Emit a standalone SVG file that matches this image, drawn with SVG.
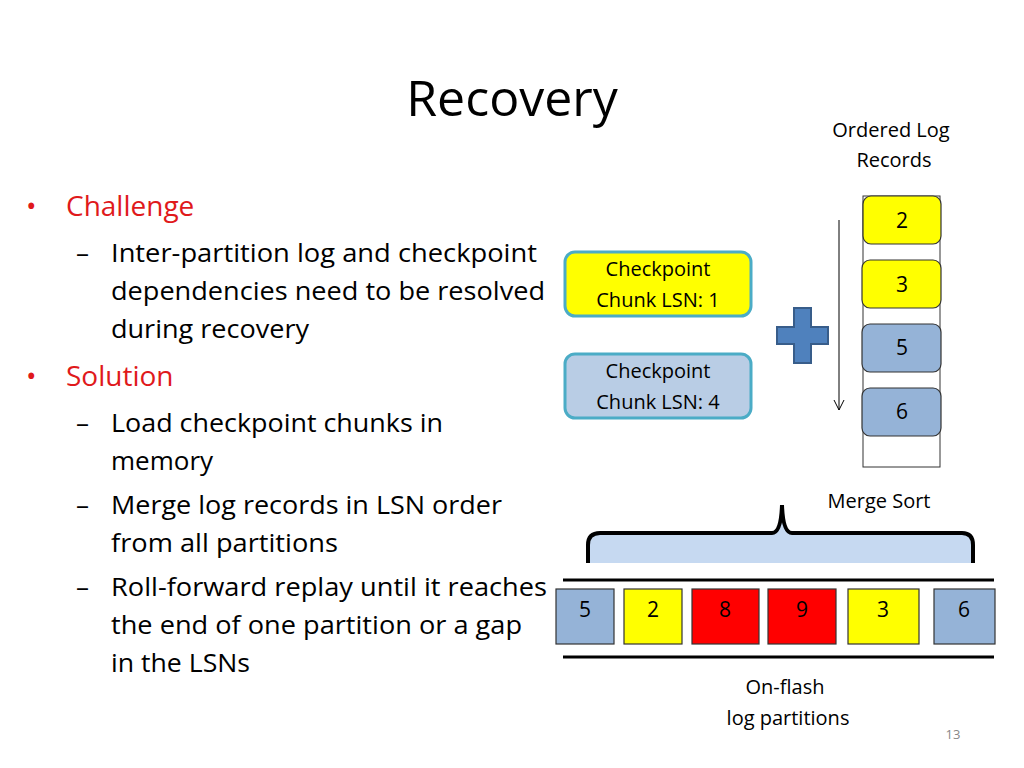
<svg xmlns="http://www.w3.org/2000/svg" width="1024" height="768" viewBox="0 0 1024 768">
<style>
text{font-family:"Open Sans","Liberation Sans",sans-serif;fill:#000}
.b{font-size:26px}
.r{fill:#e0191b;font-size:28px}
.n{font-size:21px;text-anchor:middle}
.c{font-size:20px;text-anchor:middle}
.y{fill:#ffff00}
.bl{fill:#95b3d7}
.red{fill:#ff0000}
.cell{stroke:#333;stroke-width:1.2}
.ck{stroke:#4bacc6;stroke-width:3}
</style>
<rect width="1024" height="768" fill="#fff"/>
<text x="512" y="116" font-size="50" text-anchor="middle">Recovery</text>
<g id="bullets">
<text x="26" y="216" class="r">•</text><text x="66" y="216" class="r">Challenge</text>
<text x="76" y="262" class="b">–</text><text x="111" y="262" class="b" textLength="426" lengthAdjust="spacingAndGlyphs">Inter-partition log and checkpoint</text>
<text x="111" y="300" class="b" textLength="434" lengthAdjust="spacingAndGlyphs">dependencies need to be resolved</text>
<text x="111" y="338" class="b" textLength="198" lengthAdjust="spacingAndGlyphs">during recovery</text>
<text x="26" y="386" class="r">•</text><text x="66" y="386" class="r">Solution</text>
<text x="76" y="432" class="b">–</text><text x="111" y="432" class="b" textLength="332" lengthAdjust="spacingAndGlyphs">Load checkpoint chunks in</text>
<text x="111" y="470" class="b">memory</text>
<text x="76" y="514" class="b">–</text><text x="111" y="514" class="b" textLength="391" lengthAdjust="spacingAndGlyphs">Merge log records in LSN order</text>
<text x="111" y="552" class="b" textLength="227" lengthAdjust="spacingAndGlyphs">from all partitions</text>
<text x="76" y="596" class="b">–</text><text x="111" y="596" class="b" textLength="436" lengthAdjust="spacingAndGlyphs">Roll-forward replay until it reaches</text>
<text x="111" y="634" class="b" textLength="411" lengthAdjust="spacingAndGlyphs">the end of one partition or a gap</text>
<text x="111" y="672" class="b" textLength="139" lengthAdjust="spacingAndGlyphs">in the LSNs</text>
</g>
<g id="ordered-label"><text x="891" y="137" class="c">Ordered Log</text><text x="894" y="167" class="c">Records</text></g>
<g id="ck1"><rect x="565" y="252" width="186" height="64" rx="10" class="y ck"/><text x="658" y="276" class="c">Checkpoint</text><text x="658" y="307" class="c">Chunk LSN: 1</text></g>
<g id="ck4"><rect x="565" y="354" width="186" height="64" rx="10" class="ck" style="fill:#b9cde5"/><text x="658" y="378" class="c">Checkpoint</text><text x="658" y="409" class="c">Chunk LSN: 4</text></g>
<g id="plus"><path d="M794 308h17v19h17v17h-17v19h-17v-19h-17v-17h17z" fill="#4f81bd" stroke="#385d8a" stroke-width="2"/></g>
<g id="column">
<rect x="863" y="196" width="77" height="271" fill="none" stroke="#333" stroke-width="1"/>
<rect x="863" y="196" width="78" height="48" rx="8" class="y cell"/><text x="902" y="228" class="n">2</text>
<rect x="862" y="260" width="79" height="48" rx="8" class="y cell"/><text x="902" y="292" class="n">3</text>
<rect x="862" y="324" width="79" height="48" rx="8" class="bl cell"/><text x="902" y="355" class="n">5</text>
<rect x="862" y="388" width="79" height="48" rx="8" class="bl cell"/><text x="902" y="419" class="n">6</text>
</g>
<g id="connectors">
<line x1="839" y1="220" x2="839" y2="410" stroke="#000" stroke-width="1"/>
<path d="M834 400 L839 410 L844 400" fill="none" stroke="#000" stroke-width="1"/>
</g>
<g id="merge">
<text x="879" y="508" class="c">Merge Sort</text>
<path d="M588 563 V545 Q588 533 600 533 H772 Q781 533 782 505 Q783 533 792 533 H962 Q973 533 973 545 V563 Z" fill="#c6d9f1" stroke="none"/>
<path d="M588 563 V545 Q588 533 600 533 H772 Q781 533 782 505 Q783 533 792 533 H962 Q973 533 973 545 V563" fill="none" stroke="#000" stroke-width="4"/>
</g>
<g id="partitions">
<line x1="563" y1="580" x2="994" y2="580" stroke="#000" stroke-width="3"/>
<line x1="563" y1="657" x2="994" y2="657" stroke="#000" stroke-width="3"/>
<rect x="556" y="589" width="58" height="55" class="bl cell"/><text x="585" y="617" class="n">5</text>
<rect x="624" y="589" width="58" height="55" class="y cell"/><text x="653" y="617" class="n">2</text>
<rect x="692" y="589" width="67" height="55" class="red cell"/><text x="725" y="617" class="n">8</text>
<rect x="768" y="589" width="68" height="55" class="red cell"/><text x="802" y="617" class="n">9</text>
<rect x="848" y="589" width="71" height="55" class="y cell"/><text x="883" y="617" class="n">3</text>
<rect x="934" y="589" width="61" height="55" class="bl cell"/><text x="964" y="617" class="n">6</text>
</g>
<g id="flash-label"><text x="785" y="694" class="c">On-flash</text><text x="788" y="725" class="c">log partitions</text></g>
<text x="953" y="739" font-size="13" text-anchor="middle" style="fill:#888">13</text>
</svg>
